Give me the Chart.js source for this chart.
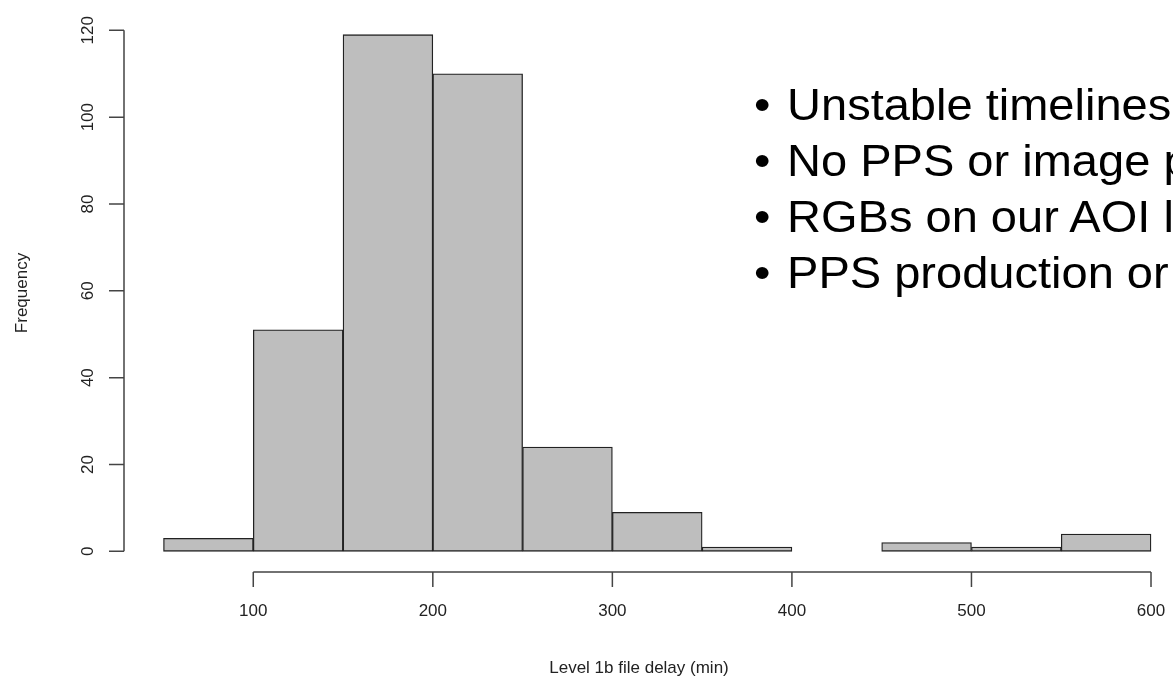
<!DOCTYPE html>
<html>
<head>
<meta charset="utf-8">
<title>Level 1b file delay</title>
<script src="https://cdn.jsdelivr.net/npm/chart.js@4/dist/chart.umd.min.js"></script>
<style>
  html, body { margin: 0; padding: 0; background: #fff; overflow: hidden; }
  #wrap { position: relative; width: 1173px; height: 696px; overflow: hidden; }
  #notes {
    position: absolute; left: 754px; top: 77px;
    font-family: 'Liberation Sans', Arial, sans-serif;
    font-size: 45px; line-height: 56px; color: #000;
    white-space: nowrap;
    transform: scaleX(1.045); transform-origin: 0 0;
  }
  #notes .dot { display: inline-block; width: 31.6px; }
</style>
</head>
<body>
<div id="wrap">
  <canvas id="histChart" width="1173" height="696"></canvas>
  <div id="notes">
    <div><span class="dot">•</span>Unstable timelines</div>
    <div><span class="dot">•</span>No PPS or image p</div>
    <div><span class="dot">•</span>RGBs on our AOI l</div>
    <div><span class="dot">•</span>PPS production or</div>
  </div>
</div>
<script>
// histogram bins (minutes) and counts
var binStarts = [50, 100, 150, 200, 250, 300, 350, 400, 450, 500, 550];
var binWidth = 50;
var counts = [3, 51, 119, 110, 24, 9, 1, 0, 2, 1, 4];

var xTicks = [100, 200, 300, 400, 500, 600];
var yTicks = [0, 20, 40, 60, 80, 100, 120];

var xTitle = 'Level 1b file delay (min)';
var yTitle = 'Frequency';

var bars = [];
for (var i = 0; i < binStarts.length; i++) {
    bars.push({ x: binStarts[i] + binWidth / 2, y: counts[i] });
}

var axisFont = '17px "Liberation Sans", Arial, sans-serif';
var axisColor = '#444';

// base-graphics style axes, drawn off the plot edges
var rAxes = {
    id: 'rAxes',
    afterDraw: function (chart) {
        var ctx = chart.ctx;
        var xs = chart.scales.x;
        var ys = chart.scales.y;
        var area = chart.chartArea;
        var tick = 15;

        ctx.save();
        ctx.strokeStyle = axisColor;
        ctx.lineWidth = 1.5;
        ctx.fillStyle = '#222';
        ctx.font = axisFont;

        // y axis
        var yx = area.left;
        ctx.beginPath();
        ctx.moveTo(yx, ys.getPixelForValue(yTicks[0]));
        ctx.lineTo(yx, ys.getPixelForValue(yTicks[yTicks.length - 1]));
        yTicks.forEach(function (v) {
            var py = ys.getPixelForValue(v);
            ctx.moveTo(yx, py);
            ctx.lineTo(yx - tick, py);
        });
        ctx.stroke();
        ctx.textAlign = 'center';
        ctx.textBaseline = 'middle';
        yTicks.forEach(function (v) {
            ctx.save();
            ctx.translate(88, ys.getPixelForValue(v));
            ctx.rotate(-Math.PI / 2);
            ctx.fillText(String(v), 0, 0);
            ctx.restore();
        });

        // x axis
        var xy = area.bottom;
        ctx.beginPath();
        ctx.moveTo(xs.getPixelForValue(xTicks[0]), xy);
        ctx.lineTo(xs.getPixelForValue(xTicks[xTicks.length - 1]), xy);
        xTicks.forEach(function (v) {
            var px = xs.getPixelForValue(v);
            ctx.moveTo(px, xy);
            ctx.lineTo(px, xy + tick);
        });
        ctx.stroke();
        xTicks.forEach(function (v) {
            ctx.fillText(String(v), xs.getPixelForValue(v), 611);
        });

        // titles
        ctx.fillText(xTitle, 639, 668);
        ctx.save();
        ctx.translate(22, (area.top + area.bottom) / 2);
        ctx.rotate(-Math.PI / 2);
        ctx.fillText(yTitle, 0, 0);
        ctx.restore();

        ctx.restore();
    }
};

var ctx = document.getElementById('histChart');
window.histChart = new Chart(ctx, {
    type: 'bar',
    data: {
        datasets: [{
            label: yTitle,
            data: bars,
            backgroundColor: '#bebebe',
            borderColor: '#222',
            borderWidth: 1.3,
            borderSkipped: false,
            barPercentage: 1.0,
            categoryPercentage: 1.0
        }]
    },
    options: {
        responsive: false,
        animation: false,
        layout: { padding: { left: 124, right: 0, top: 14, bottom: 124 } },
        plugins: { legend: { display: false }, tooltip: { enabled: false } },
        scales: {
            x: { type: 'linear', display: false, offset: false, min: 28, max: 612.25 },
            y: { type: 'linear', display: false, min: -4.76, max: 123.76 }
        }
    },
    plugins: [rAxes]
});
</script>
</body>
</html>
